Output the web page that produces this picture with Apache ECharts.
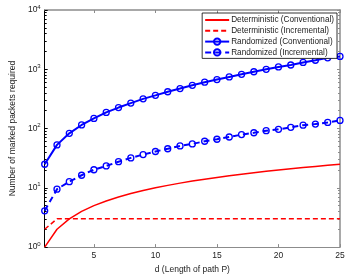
<!DOCTYPE html>
<html><head><meta charset="utf-8">
<script src="https://cdn.jsdelivr.net/npm/echarts@6/dist/echarts.min.js"></script>
<style>html,body{margin:0;padding:0;background:#fff}#c{width:349px;height:279px}</style>
</head><body><div id="c"></div>
<script>
const dValues = [1,2,3,4,5,6,7,8,9,10,11,12,13,14,15,16,17,18,19,20,21,22,23,24,25];
const detConventional = [1,2,3,4,5,6,7,8,9,10,11,12,13,14,15,16,17,18,19,20,21,22,23,24,25];
const detIncremental = [2,3,3,3,3,3,3,3,3,3,3,3,3,3,3,3,3,3,3,3,3,3,3,3,3];
const randConventional = [25,53,83,115,148,187,226,269,317,363,418,473,537,605,670,743,823,908,1000,1095,1180,1305,1420,1560,1650];
const randIncremental = [4.1,9.5,12.7,16.3,20.2,23.4,27.6,32,36.4,41,45.6,51,55,61,66,72,79,85,92,97,105,114,119,127,137];
const xTicks = [5,10,15,20,25];
const yMajor = [1,10,100,1000,10000];
const yMinor = [2,3,4,5,6,7,8,9,20,30,40,50,60,70,80,90,200,300,400,500,600,700,800,900,2000,3000,4000,5000,6000,7000,8000,9000];
const names = ['Deterministic (Conventional)','Deterministic (Incremental)','Randomized (Conventional)','Randomized (Incremental)'];

const FONT = 'Liberation Sans';
const pair = arr => dValues.map((d,i)=>[d,arr[i]]);
const chart = echarts.init(document.getElementById('c'), null, {renderer:'canvas'});
const gray = '#8c8c8c';
chart.setOption({
  animation:false,
  backgroundColor:'#fff',
  textStyle:{fontFamily:FONT},
  grid:{left:31,right:9,top:10,bottom:24,containLabel:false},
  legend:{
    orient:'vertical', right:12, top:13,
    backgroundColor:'#fff', borderColor:'#000', borderWidth:0.8, borderRadius:0,
    padding:[2,3,1,2], itemGap:0.8, itemWidth:24, itemHeight:8,
    textStyle:{fontFamily:FONT,fontSize:8.2,color:'#222',padding:[0,0,0,-3],lineHeight:10},
    data:[
      {name:names[0],itemStyle:{opacity:0}},
      {name:names[1],itemStyle:{opacity:0}},
      {name:names[2]},
      {name:names[3]}
    ]
  },
  xAxis:[{
    type:'value', min:1, max:25, position:'bottom',
    axisLine:{lineStyle:{color:gray,width:1}},
    axisTick:{inside:true,length:3,customValues:xTicks,lineStyle:{color:gray}},
    axisLabel:{customValues:xTicks,fontSize:8.5,color:'#222',margin:4},
    splitLine:{show:false},
    name:'d (Length of path P)', nameLocation:'middle', nameGap:13,
    nameTextStyle:{fontSize:8.5,color:'#222'}
  },{
    type:'value', min:1, max:25, position:'top',
    axisLine:{lineStyle:{color:gray,width:1.5}},
    axisTick:{inside:true,length:3,customValues:xTicks,lineStyle:{color:gray}},
    axisLabel:{show:false}, splitLine:{show:false}
  }],
  yAxis:[{
    type:'log', logBase:10, min:1, max:10000, position:'left',
    axisLine:{show:true,onZero:false,lineStyle:{color:'#000',width:1}},
    axisTick:{inside:true,length:3,customValues:yMajor,lineStyle:{color:'#000'}},
    axisLabel:{customValues:yMajor,margin:4,
      formatter:v=>'{b|10}{s|'+Math.round(Math.log10(v))+'}',
      rich:{b:{fontSize:8.5,color:'#222',fontFamily:FONT},s:{fontSize:6,color:'#222',fontFamily:FONT,verticalAlign:'bottom',padding:[0,0,6,0]}}},
    splitLine:{show:false},
    name:'Number of marked packets required', nameLocation:'middle', nameGap:20,
    nameTextStyle:{fontSize:8.5,color:'#222'}
  },{
    type:'log', logBase:10, min:1, max:10000, position:'left',
    axisLine:{show:false},
    axisTick:{show:true,inside:true,length:2,customValues:yMinor,lineStyle:{color:'#000'}},
    axisLabel:{show:false}, splitLine:{show:false}
  },{
    type:'log', logBase:10, min:1, max:10000, position:'right',
    axisLine:{show:true,lineStyle:{color:gray,width:1.5}},
    axisTick:{inside:true,length:3,customValues:yMajor,lineStyle:{color:gray}},
    axisLabel:{show:false}, splitLine:{show:false}
  },{
    type:'log', logBase:10, min:1, max:10000, position:'right',
    axisLine:{show:false},
    axisTick:{show:true,inside:true,length:2,customValues:yMinor,lineStyle:{color:gray}},
    axisLabel:{show:false}, splitLine:{show:false}
  }],
  series:[
    {name:names[0],type:'line',data:pair(detConventional),showSymbol:false,symbol:'none',
     itemStyle:{color:'#ff0000'},lineStyle:{color:'#ff0000',width:1.5}},
    {name:names[1],type:'line',data:pair(detIncremental),showSymbol:false,symbol:'none',
     itemStyle:{color:'#ff0000'},lineStyle:{color:'#ff0000',width:1.5,type:[5,3]}},
    {name:names[2],type:'line',data:pair(randConventional),symbol:'circle',symbolSize:6,
     itemStyle:{color:'transparent',borderColor:'#0000ff',borderWidth:1.3},
     lineStyle:{color:'#0000ff',width:2}},
    {name:names[3],type:'line',data:pair(randIncremental),symbol:'circle',symbolSize:6,
     itemStyle:{color:'transparent',borderColor:'#0000ff',borderWidth:1.3},
     lineStyle:{color:'#0000ff',width:2,type:[6,4]}}
  ]
});
</script></body></html>
